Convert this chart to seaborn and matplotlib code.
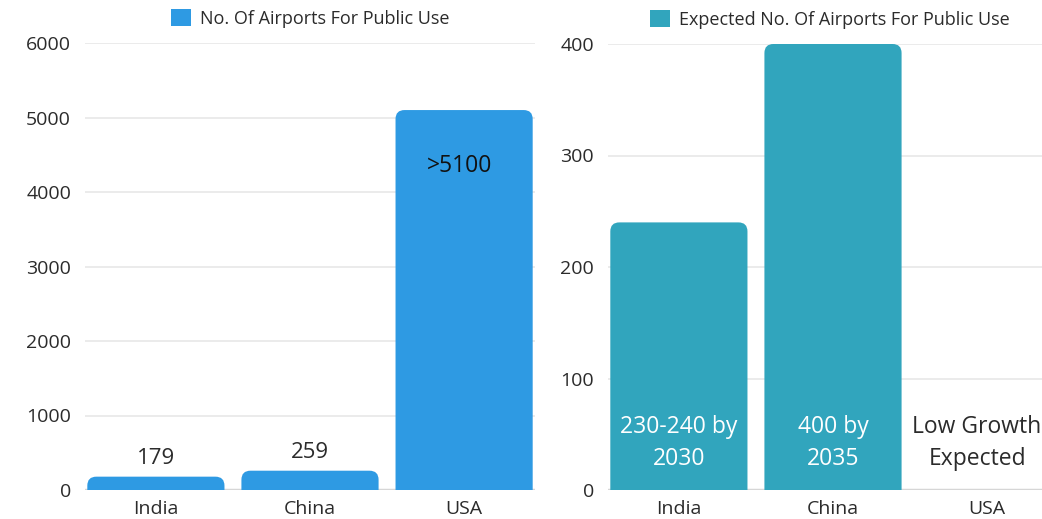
import matplotlib
matplotlib.use("Agg")
import matplotlib.pyplot as plt
import seaborn as sns
import pandas as pd
from matplotlib.patches import FancyBboxPatch, Patch

categories = ["India", "China", "USA"]
current_values = [179, 259, 5100]
current_labels = ["179", "259", ">5100"]
expected_values = [240, 400, 0]
expected_labels = ["230-240 by\n2030", "400 by\n2035", "Low Growth\nExpected"]
left_title = "No. Of Airports For Public Use"
right_title = "Expected No. Of Airports For Public Use"
left_ticks = [0, 1000, 2000, 3000, 4000, 5000, 6000]
right_ticks = [0, 100, 200, 300, 400]

c_left = "#2E9AE3"
c_right = "#31A5BD"
txt = "#2b2b2b"

sns.set_theme(style="white")
plt.rcParams["font.family"] = ["Open Sans", "DejaVu Sans"]

W, H = 1042, 519
fig = plt.figure(figsize=(W / 100, H / 100), dpi=100)
ax1 = fig.add_axes([85 / W, (H - 490) / H, 450 / W, 447 / H])
ax2 = fig.add_axes([608 / W, (H - 490) / H, 450 / W, 446 / H])

df1 = pd.DataFrame({"cat": categories, "val": current_values})
df2 = pd.DataFrame({"cat": categories, "val": expected_values})

sns.barplot(data=df1, x="cat", y="val", color=c_left, width=0.89, ax=ax1, saturation=1)
sns.barplot(data=df2, x="cat", y="val", color=c_right, width=0.89, ax=ax2, saturation=1)

ax1.set_ylim(0, 6000)
ax2.set_ylim(0, 400)
ax1.set_yticks(left_ticks)
ax2.set_yticks(right_ticks)

for ax in (ax1, ax2):
    ax.set_xlim(-0.46, 2.46)
    ax.set_xlabel("")
    ax.set_ylabel("")
    for s in ax.spines.values():
        s.set_visible(False)
    ax.grid(axis="y", color="#e8e8e8", linewidth=1.2)
    ax.set_axisbelow(True)
    ax.axhline(0, color="#d6d6d6", linewidth=2.5, zorder=1)
    ax.tick_params(axis="both", length=0, labelsize=14, colors=txt)
    ax.tick_params(axis="y", pad=10)
    ax.tick_params(axis="x", pad=7)

# rounded top corners
def round_bars(ax, radius_px=9):
    fig.canvas.draw()
    inv = ax.transData.inverted()
    p0 = inv.transform((0, 0))
    p1 = inv.transform((radius_px, radius_px))
    rx = p1[0] - p0[0]
    ry = p1[1] - p0[1]
    aspect = ry / rx
    for p in list(ax.patches):
        x, y = p.get_x(), p.get_y()
        w, h = p.get_width(), p.get_height()
        if h <= 0:
            p.remove()
            continue
        fb = FancyBboxPatch((x, y - 3 * ry), w, h + 3 * ry,
                            boxstyle=f"round,pad=0,rounding_size={rx}",
                            mutation_aspect=aspect,
                            facecolor=p.get_facecolor(), edgecolor="none",
                            zorder=2, clip_on=True)
        p.remove()
        ax.add_patch(fb)

round_bars(ax1)
round_bars(ax2)

# left annotations
for i, (v, lab) in enumerate(zip(current_values, current_labels)):
    if i < 2:
        ax1.annotate(lab, (i, v), xytext=(0, 13), textcoords="offset points",
                     ha="center", va="center", fontsize=16, color=txt)
    else:
        ax1.annotate(lab, (i - 0.03, v), xytext=(0, -40), textcoords="offset points",
                     ha="center", va="center", fontsize=16.5, color="#111111")

xpos = [0, 1, 1.935]
for i, lab in enumerate(expected_labels):
    col = "white" if expected_values[i] > 0 else txt
    ax2.text(xpos[i], 42, lab, ha="center", va="center", fontsize=16.5, color=col,
             linespacing=1.45, zorder=3)

ax1.legend(handles=[Patch(facecolor=c_left, edgecolor="none")], labels=[left_title],
           loc="lower center", bbox_to_anchor=(0.5, 1.0), frameon=False, fontsize=13,
           handlelength=1.1, handleheight=1.1, handletextpad=0.5, labelcolor=txt,
           borderaxespad=0.45)
ax2.legend(handles=[Patch(facecolor=c_right, edgecolor="none")], labels=[right_title],
           loc="lower center", bbox_to_anchor=(222 / 450, 1.0), frameon=False, fontsize=13,
           handlelength=1.1, handleheight=1.1, handletextpad=0.5, labelcolor=txt,
           borderaxespad=0.45)

fig.savefig("out.png", dpi=100, facecolor="white")
